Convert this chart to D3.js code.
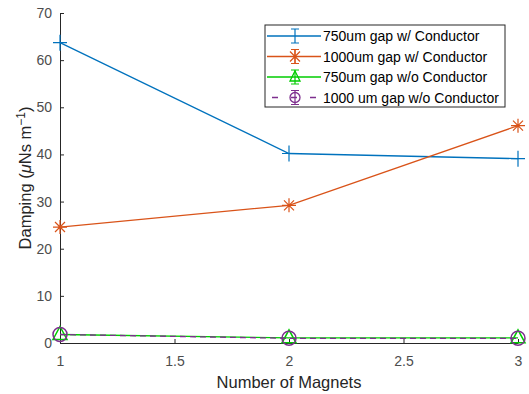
<!DOCTYPE html>
<html>
<head>
<meta charset="utf-8">
<script src="https://cdn.jsdelivr.net/npm/d3@7"></script>
<style>
  body { margin: 0; background: #fff; }
  text { font-family: "Liberation Sans", Arial, sans-serif; }
</style>
</head>
<body>
<div id="chart"></div>
<script>
// ---------- DATA ----------
const magnets = [1, 2, 3];
const gap750With = [63.7, 40.2, 39.1];
const gap1000With = [24.6, 29.2, 46.1];
const gap750Without = [1.8, 1.1, 1.1];
const gap1000Without = [1.8, 1.0, 1.0];
const xTicks = [1, 1.5, 2, 2.5, 3];
const yTicks = [0, 10, 20, 30, 40, 50, 60, 70];

const seriesList = [
  { name: '750um gap w/ Conductor', values: gap750With, color: '#0072BD', marker: 'plus', dash: null },
  { name: '1000um gap w/ Conductor', values: gap1000With, color: '#D95319', marker: 'star', dash: null },
  { name: '750um gap w/o Conductor', values: gap750Without, color: '#00CC00', marker: 'triangle', dash: null },
  { name: '1000 um gap w/o Conductor', values: gap1000Without, color: '#7E2F8E', marker: 'circle', dash: '6,4' },
];

// ---------- SVG ----------
const width = 529, height = 394;
const margin = { top: 13, right: 11, bottom: 51, left: 60 };
const innerW = width - margin.left - margin.right;
const innerH = height - margin.top - margin.bottom;

const svg = d3.select('#chart').append('svg')
  .attr('width', width).attr('height', height);

const g = svg.append('g')
  .attr('transform', `translate(${margin.left},${margin.top})`);

const x = d3.scaleLinear().domain([1, 3]).range([0, innerW]);
const y = d3.scaleLinear().domain([0, 70]).range([innerH, 0]);

const axisColor = '#262626';

// axes (ticks inward, like matlab)
const xAxis = g.append('g')
  .attr('transform', `translate(0,${innerH})`)
  .call(d3.axisBottom(x).tickValues(xTicks).tickSizeInner(-4).tickSizeOuter(0).tickPadding(13).tickFormat(d3.format('')));
const yAxis = g.append('g')
  .call(d3.axisLeft(y).tickValues(yTicks).tickSizeInner(-4).tickSizeOuter(0).tickPadding(8));

[xAxis, yAxis].forEach(a => {
  a.select('.domain').attr('stroke', axisColor).attr('stroke-width', 1);
  a.selectAll('.tick line').attr('stroke', axisColor);
  a.selectAll('.tick text').attr('fill', '#4d4d4d').style('font-size', '14px');
});

// axis labels
svg.append('text')
  .attr('x', margin.left + innerW / 2)
  .attr('y', 388)
  .attr('text-anchor', 'middle')
  .attr('fill', '#262626')
  .style('font-size', '16.5px')
  .text('Number of Magnets');

const yl = svg.append('text')
  .attr('transform', `translate(31,${margin.top + innerH / 2}) rotate(-90)`)
  .attr('text-anchor', 'middle')
  .attr('fill', '#262626')
  .style('font-size', '16.5px');
yl.append('tspan').text('Damping (');
yl.append('tspan').style('font-style', 'italic').text('μ');
yl.append('tspan').text('Ns m');
yl.append('tspan').attr('dy', -6).style('font-size', '12px').text('−1');
yl.append('tspan').attr('dy', 6).text(')');

// ---------- MARKERS ----------
function drawMarker(sel, type, cx, cy, color) {
  const m = sel.append('g').attr('transform', `translate(${cx},${cy})`)
    .attr('stroke', color).attr('fill', 'none').attr('stroke-width', 1.2);
  if (type === 'plus') {
    m.append('path').attr('d', 'M-7,0H7M0,-8V8');
  } else if (type === 'star') {
    m.append('path').attr('d', 'M-7,0H7M0,-7V7M-5,-5L5,5M-5,5L5,-5');
  } else if (type === 'triangle') {
    m.append('path').attr('d', 'M0,-8L7,5H-7Z').attr('stroke-width', 1.5);
  } else if (type === 'circle') {
    m.append('circle').attr('r', 7).attr('stroke-width', 1.5);
  }
}

// ---------- LINES ----------
const line = d3.line()
  .x((d, i) => x(magnets[i]))
  .y(d => y(d));

seriesList.forEach(s => {
  g.append('path')
    .datum(s.values)
    .attr('d', line)
    .attr('fill', 'none')
    .attr('stroke', s.color)
    .attr('stroke-width', 1.3)
    .attr('stroke-dasharray', s.dash);
  s.values.forEach((v, i) => drawMarker(g, s.marker, x(magnets[i]), y(v), s.color));
});

// ---------- LEGEND ----------
const legend = svg.append('g').attr('transform', 'translate(265,25)');
legend.append('rect')
  .attr('width', 240).attr('height', 82)
  .attr('fill', '#fff').attr('stroke', '#262626').attr('stroke-width', 1);

seriesList.forEach((s, i) => {
  const ly = 11 + i * 20.5;
  const row = legend.append('g');
  row.append('line')
    .attr('x1', 2).attr('x2', 56).attr('y1', ly).attr('y2', ly)
    .attr('stroke', s.color).attr('stroke-width', 1.3)
    .attr('stroke-dasharray', s.dash ? '6,13' : null)
    .attr('stroke-dashoffset', s.dash ? -5 : null);
  // errorbar glyph
  row.append('path')
    .attr('d', `M26,${ly - 7}H34M30,${ly - 7}V${ly + 7}M26,${ly + 7}H34`)
    .attr('stroke', s.color).attr('fill', 'none').attr('stroke-width', 1.2);
  const mk = legend.append('g');
  if (s.marker === 'star') drawMarker(mk, 'star', 30, ly, s.color);
  if (s.marker === 'triangle') {
    mk.append('path').attr('d', `M30,${ly - 6}L35,${ly + 4}H25Z`)
      .attr('stroke', s.color).attr('fill', 'none').attr('stroke-width', 1.3);
  }
  if (s.marker === 'circle') {
    mk.append('circle').attr('cx', 30).attr('cy', ly).attr('r', 5)
      .attr('stroke', s.color).attr('fill', 'none').attr('stroke-width', 1.3);
  }
  row.append('text')
    .attr('x', 58).attr('y', ly + 5)
    .attr('fill', '#000')
    .style('font-size', '14px')
    .text(s.name);
});
</script>
</body>
</html>
